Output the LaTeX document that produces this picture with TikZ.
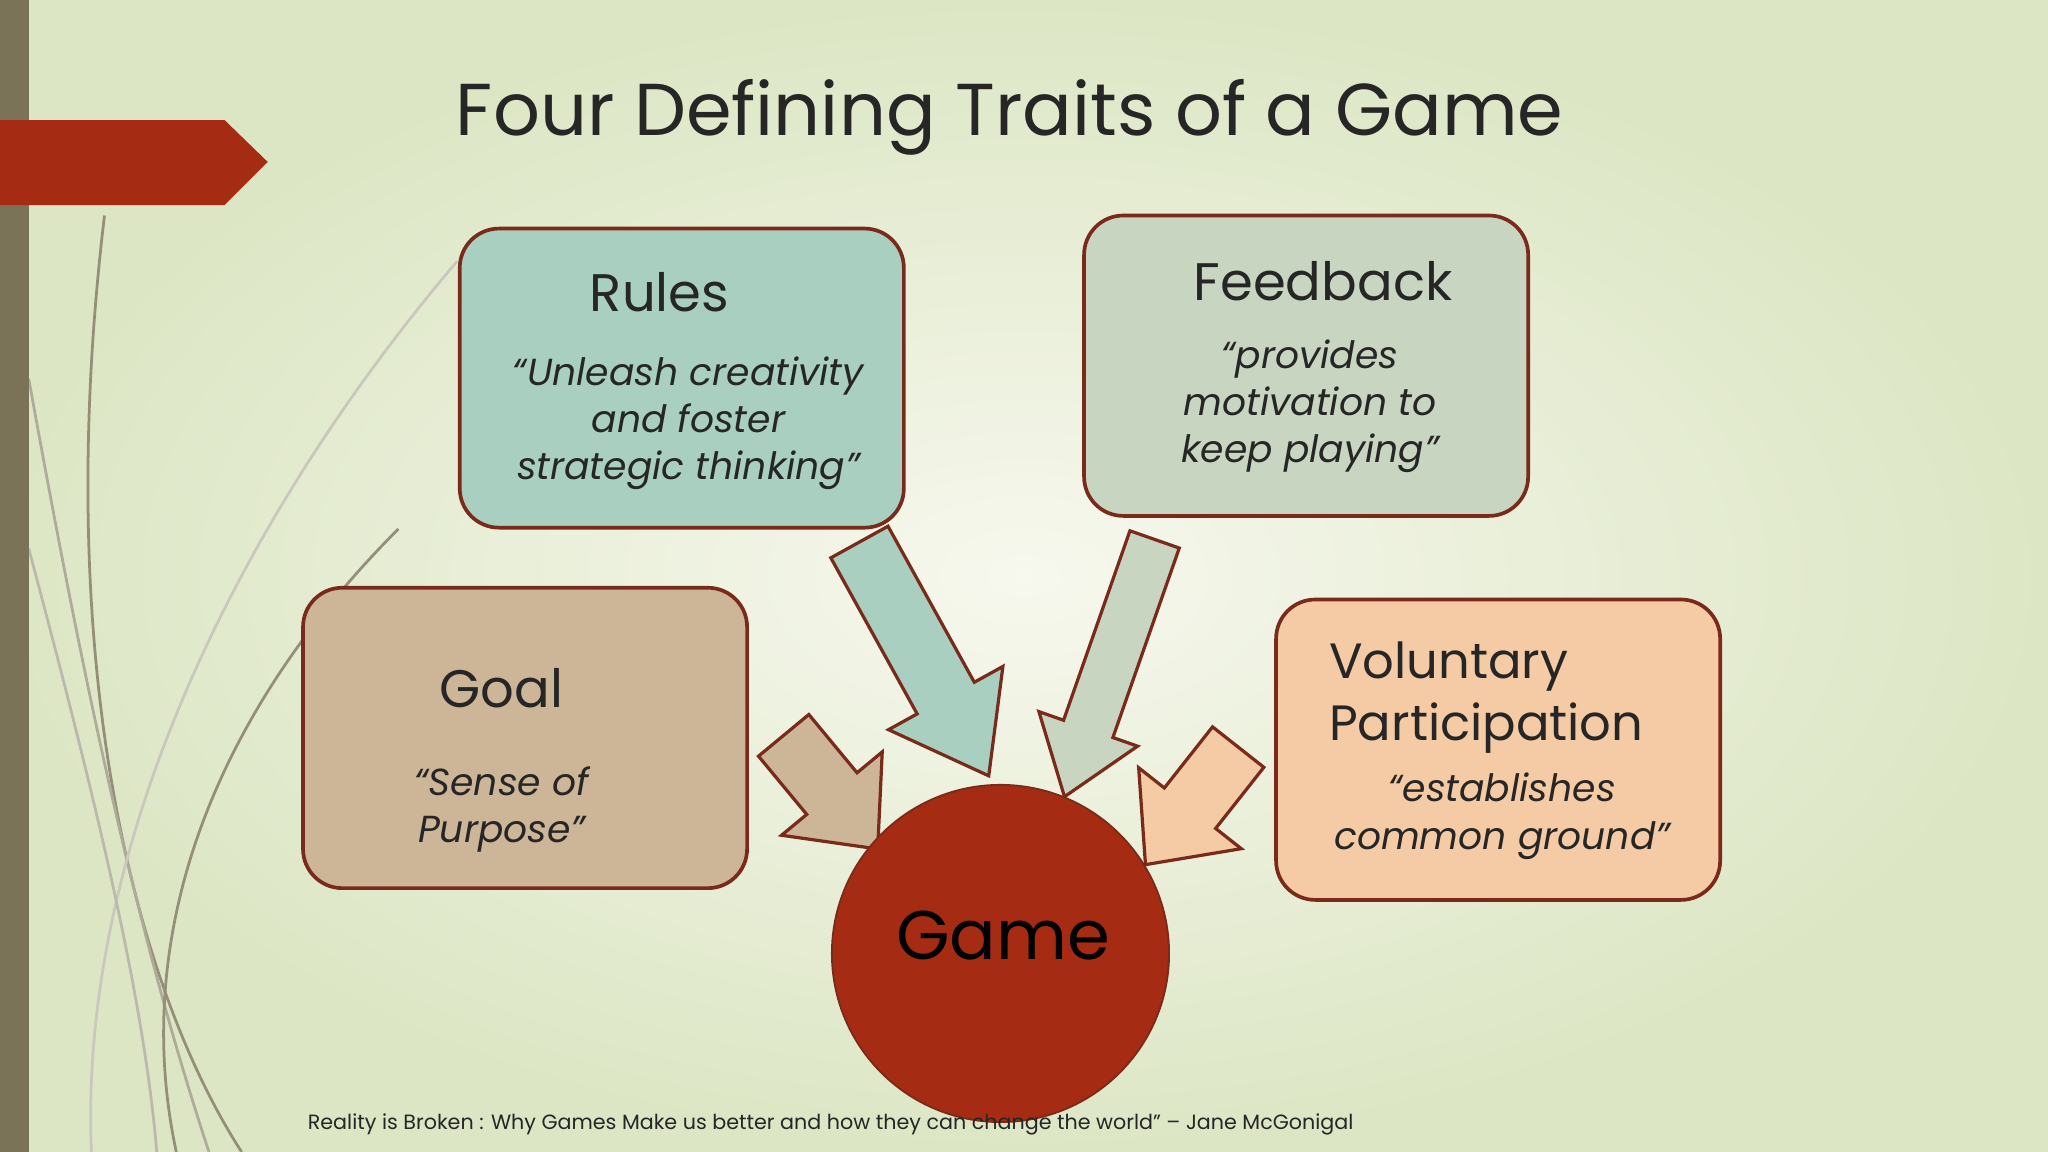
\documentclass[tikz,border=0pt]{standalone}
\usepackage{fontspec}
\setmainfont{Poppins}
\usetikzlibrary{calc}
\definecolor{bgin}{HTML}{F7F8EE}
\definecolor{bgout}{HTML}{DCE6C4}
\definecolor{rust}{HTML}{A52B12}
\definecolor{edge}{HTML}{7A2A1A}
\definecolor{cRules}{HTML}{A8CFC0}
\definecolor{cFeed}{HTML}{C8D5C0}
\definecolor{cGoal}{HTML}{CDB598}
\definecolor{cVol}{HTML}{F4CBA4}
\definecolor{olive}{HTML}{7A7358}
\tikzset{
  box/.style={draw=edge,line width=0.8pt,rounded corners=0.3cm},
  ttl/.style={font=\fontsize{11.5}{14}\selectfont,text=black!85},
  quote/.style={font=\itshape\fontsize{8.2}{10.3}\selectfont,align=center,text=black!85},
  deco/.style={olive!80,line width=0.6pt}
}
\newcommand\blockarr[6]{%
  \fill[#1,draw=edge,line width=0.7pt]
   ($(#2)!#4!90:(#3)$) -- ($($(#3)!#6!(#2)$)!#4!-90:(#2)$) --
   ($($(#3)!#6!(#2)$)!#5!-90:(#2)$) -- (#3) --
   ($($(#3)!#6!(#2)$)!#5!90:(#2)$) -- ($($(#3)!#6!(#2)$)!#4!90:(#2)$) --
   ($(#2)!#4!-90:(#3)$) -- cycle;}
\begin{document}
\begin{tikzpicture}[x=0.01cm,y=-0.01cm]
\useasboundingbox (0,0) rectangle (1568,882);
\shade[inner color=bgin,outer color=bgout] (0,0) rectangle (1568,882);
% decorative lines
\draw[deco] (80,165) .. controls (40,500) and (100,750) .. (185,882);
\draw[deco,olive!60] (22,290) .. controls (60,500) and (100,700) .. (160,882);
\draw[deco,olive!40] (350,200) .. controls (180,400) and (60,650) .. (70,882);
\draw[deco] (305,405) .. controls (160,550) and (100,720) .. (135,882);
\draw[deco,olive!50] (22,420) .. controls (70,600) and (110,760) .. (120,882);
\fill[olive] (0,0) rectangle (22,882);
\fill[rust] (0,92) -- (172,92) -- (205,124) -- (172,157) -- (0,157) -- cycle;
\node[font=\fontsize{16}{20}\selectfont,text=black!85] (title) at (773,90) {Four Defining Traits of a Game};
% boxes
\draw[box,fill=cRules] (352,175) rectangle (692,404);
\node[ttl] (rt) at (505,224) {Rules};
\node[quote] (rq) at (527,324) {“Unleash creativity\\and foster\\strategic thinking”};
\draw[box,fill=cFeed] (830,165) rectangle (1170,395);
\node[ttl] (ft) at (1013,215) {Feedback};
\node[quote] (fq) at (1003,311) {“provides\\motivation to\\keep playing”};
\draw[box,fill=cGoal] (232,450) rectangle (572,680);
\node[ttl] (gt) at (384,527) {Goal};
\node[quote] (gq) at (384,620) {“Sense of\\Purpose”};
\draw[box,fill=cVol] (977,459) rectangle (1317,689);
\node[ttl,align=left,anchor=west,inner sep=0pt,font=\fontsize{10.8}{13.6}\selectfont] (vt) at (1017,534) {Voluntary\\Participation};
\node[quote] (vq) at (1150,625) {“establishes\\common ground”};
% arrows
\coordinate (a1s) at (658,415); \coordinate (a1t) at (757,594);
\coordinate (a2s) at (884,413); \coordinate (a2t) at (815,610);
\coordinate (a3s) at (600,563); \coordinate (a3t) at (672,650);
\coordinate (a4s) at (948,572); \coordinate (a4t) at (877,662);
\blockarr{cRules}{a1s}{a1t}{0.25cm}{0.5cm}{0.68cm}
\blockarr{cFeed}{a2s}{a2t}{0.2cm}{0.4cm}{0.55cm}
\blockarr{cGoal}{a3s}{a3t}{0.25cm}{0.5cm}{0.55cm}
\blockarr{cVol}{a4s}{a4t}{0.25cm}{0.5cm}{0.55cm}
\node[circle,fill=rust,draw=edge,minimum size=2.58cm,inner sep=0pt] (game) at (766,730) {};
\node[font=\fontsize{15}{18}\selectfont] (gamelbl) at (768,716) {Game};
\node[font=\fontsize{4.5}{6}\selectfont,anchor=west,inner sep=0pt,text=black!85] (cite) at (235,861) {Reality is Broken : Why Games Make us better and how they can change the world” – Jane McGonigal};
\end{tikzpicture}
\end{document}
